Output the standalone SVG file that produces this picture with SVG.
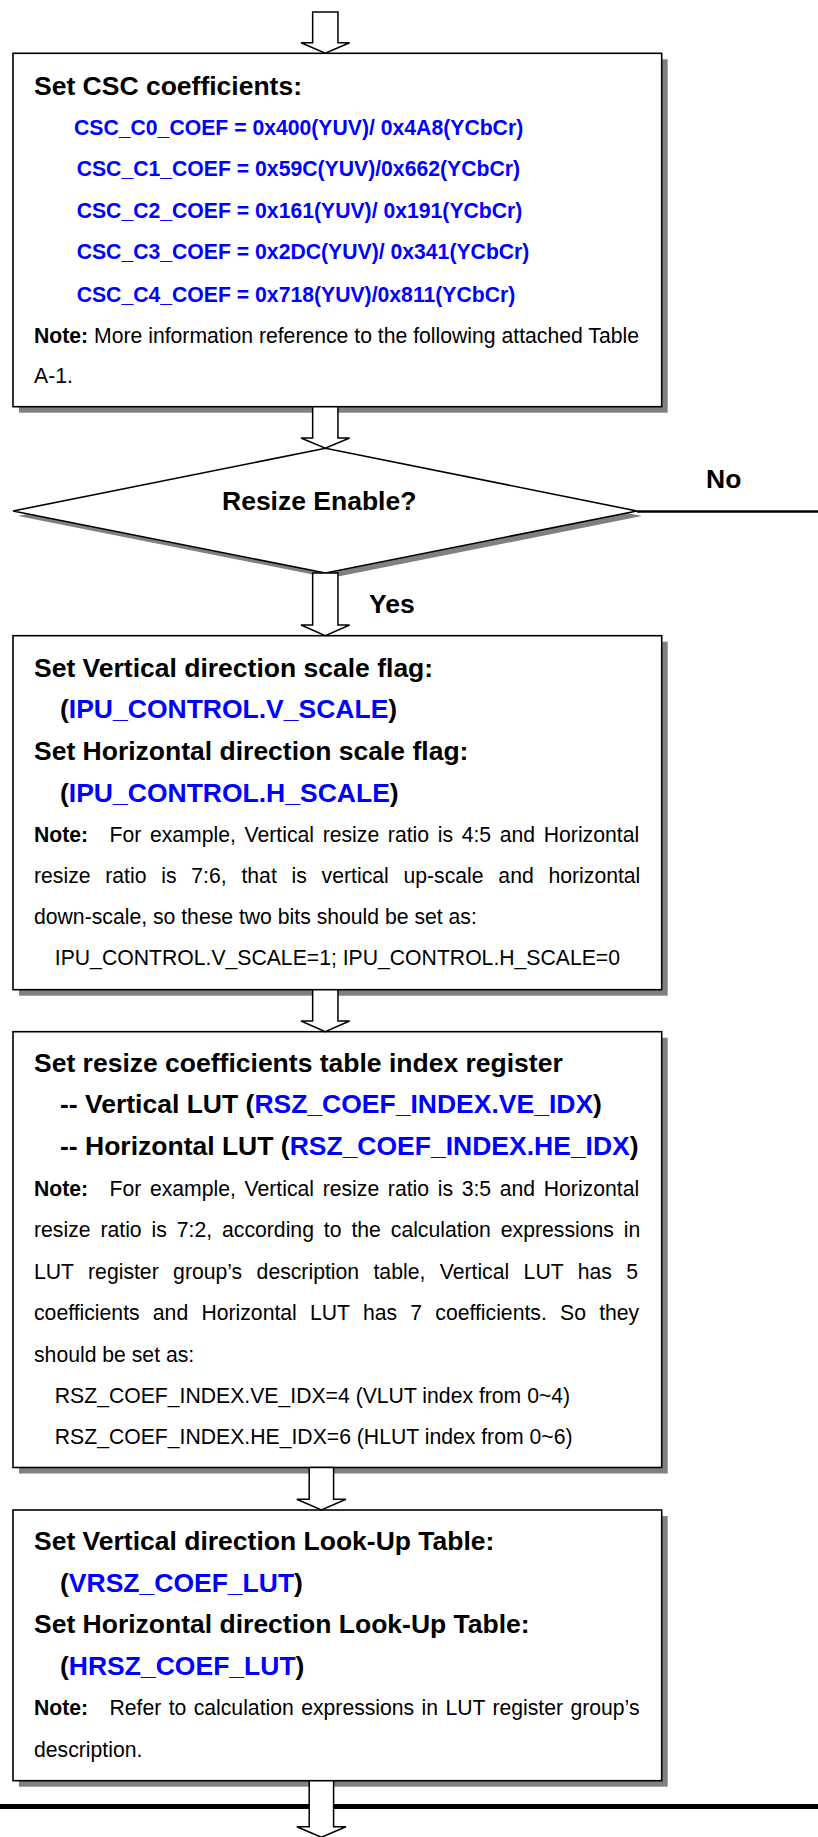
<svg xmlns="http://www.w3.org/2000/svg" width="818" height="1837" viewBox="0 0 818 1837">
<style>
.box{fill:#fff;stroke:#000;stroke-width:1.6}
.sh{fill:#808080}
.arrow{fill:#fff;stroke:#000;stroke-width:1.5;stroke-linejoin:miter}
.h{font-family:"Liberation Sans",Arial,sans-serif;font-weight:bold;font-size:26.5px;fill:#000}
.t{font-family:"Liberation Sans",Arial,sans-serif;font-size:21.2px;fill:#000}
.c{font-family:"Liberation Sans",Arial,sans-serif;font-weight:bold;font-size:21.2px;fill:#0000ff}
.bl{fill:#0000ff}
.bd{font-weight:bold}
</style>
<rect width="818" height="1837" fill="#fff"/>

<g id="box-csc">
<rect class="sh" x="19" y="59.3" width="648.7" height="353.4"/>
<rect class="box" x="13" y="53.3" width="648.7" height="353.4"/>
<text class="h" x="34" y="95">Set CSC coefficients:</text>
<text class="c" x="74" y="135">CSC_C0_COEF = 0x400(YUV)/ 0x4A8(YCbCr)</text>
<text class="c" x="76.7" y="175.7">CSC_C1_COEF = 0x59C(YUV)/0x662(YCbCr)</text>
<text class="c" x="76.7" y="218.3">CSC_C2_COEF = 0x161(YUV)/ 0x191(YCbCr)</text>
<text class="c" x="76.7" y="259.3">CSC_C3_COEF = 0x2DC(YUV)/ 0x341(YCbCr)</text>
<text class="c" x="76.7" y="301.7">CSC_C4_COEF = 0x718(YUV)/0x811(YCbCr)</text>
<text class="t" x="34" y="342.7"><tspan class="bd">Note:</tspan> More information reference to the following attached Table</text>
<text class="t" x="34" y="383.3">A-1.</text>
</g>

<g id="decision-resize">
<polygon class="sh" points="18,516 330.5,453.3 642,516 330.5,578"/>
<polygon class="box" points="13,511 325.5,448.3 637,511 325.5,573"/>
<text class="h" x="222" y="510">Resize Enable?</text>
</g>

<g id="box-scale-flag">
<rect class="sh" x="19" y="641.7" width="648.7" height="354"/>
<rect class="box" x="13" y="635.7" width="648.7" height="354"/>
<text class="h" x="34" y="677.3">Set Vertical direction scale flag:</text>
<text class="h" x="60" y="718.3">(<tspan class="bl">IPU_CONTROL.V_SCALE</tspan>)</text>
<text class="h" x="34" y="760">Set Horizontal direction scale flag:</text>
<text class="h" x="60" y="801.7">(<tspan class="bl">IPU_CONTROL.H_SCALE</tspan>)</text>
<text class="t bd" x="34" y="841.7">Note:</text>
<text class="t" x="109.5" y="841.7" word-spacing="2.76">For example, Vertical resize ratio is 4:5 and Horizontal</text>
<text class="t" x="34" y="883.3" word-spacing="8.88">resize ratio is 7:6, that is vertical up-scale and horizontal</text>
<text class="t" x="34" y="924">down-scale, so these two bits should be set as:</text>
<text class="t" x="54.8" y="965">IPU_CONTROL.V_SCALE=1; IPU_CONTROL.H_SCALE=0</text>
</g>

<g id="box-coef-index">
<rect class="sh" x="19" y="1037.7" width="648.7" height="435.8"/>
<rect class="box" x="13" y="1031.7" width="648.7" height="435.8"/>
<text class="h" x="34" y="1071.7">Set resize coefficients table index register</text>
<text class="h" x="60" y="1113.3">-- Vertical LUT (<tspan class="bl">RSZ_COEF_INDEX.VE_IDX</tspan>)</text>
<text class="h" x="60" y="1155">-- Horizontal LUT (<tspan class="bl">RSZ_COEF_INDEX.HE_IDX</tspan>)</text>
<text class="t bd" x="34" y="1196">Note:</text>
<text class="t" x="109.5" y="1196" word-spacing="2.76">For example, Vertical resize ratio is 3:5 and Horizontal</text>
<text class="t" x="34" y="1237.3" word-spacing="4.03">resize ratio is 7:2, according to the calculation expressions in</text>
<text class="t" x="34" y="1279.3" word-spacing="8.52">LUT register group’s description table, Vertical LUT has 5</text>
<text class="t" x="34" y="1320" word-spacing="7.34">coefficients and Horizontal LUT has 7 coefficients. So they</text>
<text class="t" x="34" y="1361.7">should be set as:</text>
<text class="t" x="54.8" y="1402.7">RSZ_COEF_INDEX.VE_IDX=4 (VLUT index from 0~4)</text>
<text class="t" x="54.8" y="1444.3">RSZ_COEF_INDEX.HE_IDX=6 (HLUT index from 0~6)</text>
</g>

<g id="box-lut">
<rect class="sh" x="19" y="1516" width="648.7" height="270.7"/>
<rect class="box" x="13" y="1510" width="648.7" height="270.7"/>
<text class="h" x="34" y="1550">Set Vertical direction Look-Up Table:</text>
<text class="h" x="60" y="1591.7">(<tspan class="bl">VRSZ_COEF_LUT</tspan>)</text>
<text class="h" x="34" y="1633.3">Set Horizontal direction Look-Up Table:</text>
<text class="h" x="60" y="1675">(<tspan class="bl">HRSZ_COEF_LUT</tspan>)</text>
<text class="t bd" x="34" y="1715">Note:</text>
<text class="t" x="109.5" y="1715" word-spacing="1.47">Refer to calculation expressions in LUT register group’s</text>
<text class="t" x="34" y="1756.7">description.</text>
</g>

<g id="connectors">
<line x1="637" y1="511.5" x2="818" y2="511.5" stroke="#000" stroke-width="2.7"/>
<line x1="0" y1="1806.5" x2="818" y2="1806.5" stroke="#000" stroke-width="5"/>
<polygon class="arrow" points="312.65,12 337.95,12 337.95,42.7 349.6,42.7 325.3,53.3 301,42.7 312.65,42.7"/>
<polygon class="arrow" points="312.65,406.7 337.95,406.7 337.95,438 349.6,438 325.3,448.3 301,438 312.65,438"/>
<polygon class="arrow" points="312.65,573 337.95,573 337.95,625 349.6,625 325.3,635.7 301,625 312.65,625"/>
<polygon class="arrow" points="312.65,989.7 337.95,989.7 337.95,1021 349.6,1021 325.3,1031.7 301,1021 312.65,1021"/>
<polygon class="arrow" points="309.2,1467.5 333.6,1467.5 333.6,1499.3 346,1499.3 321.4,1510 296.8,1499.3 309.2,1499.3"/>
<polygon class="arrow" points="309.2,1780.7 333.6,1780.7 333.6,1826.7 346,1826.7 321.4,1837.3 296.8,1826.7 309.2,1826.7"/>
<text class="h" x="706" y="488.3">No</text>
<text class="h" x="369" y="613.3">Yes</text>
</g>
</svg>
